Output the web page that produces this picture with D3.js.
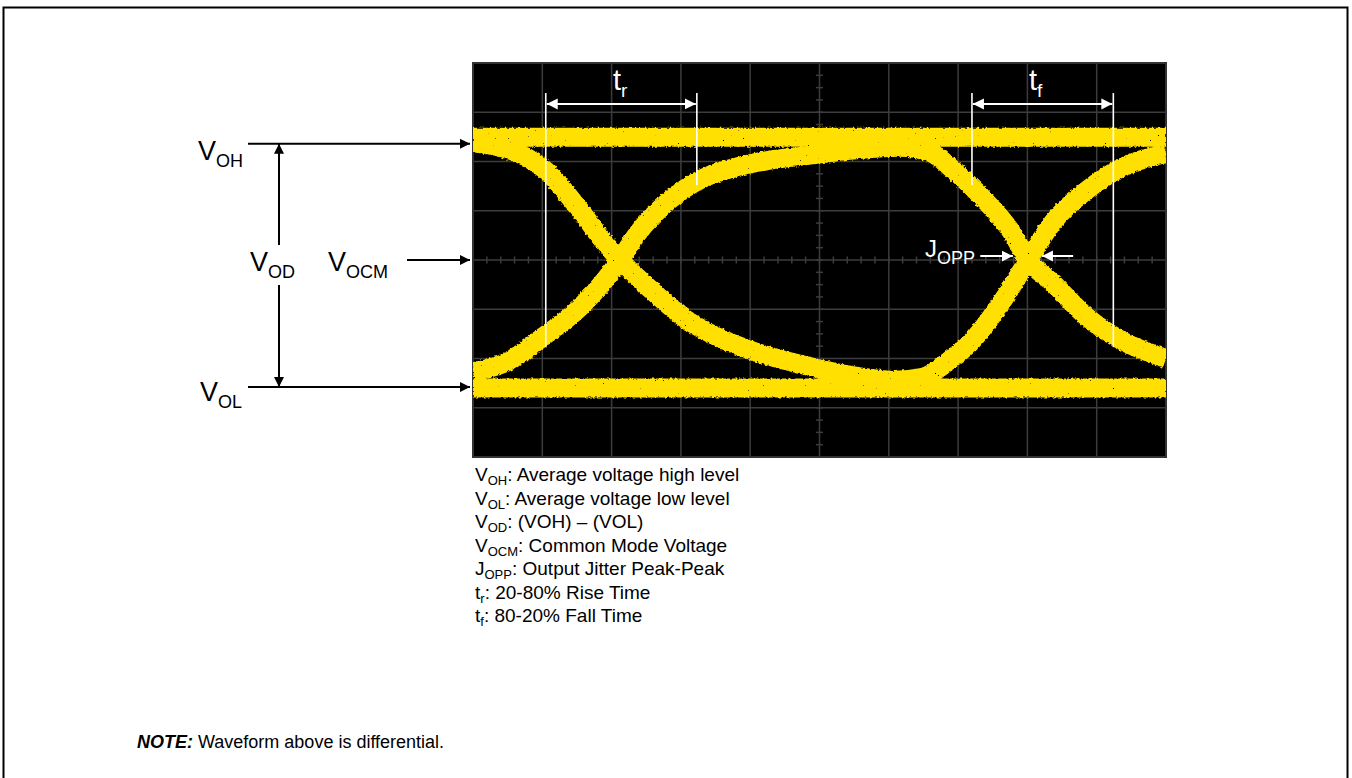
<!DOCTYPE html>
<html>
<head>
<meta charset="utf-8">
<script src="https://cdn.jsdelivr.net/npm/d3@7/dist/d3.min.js"></script>
<style>
    body { margin: 0; background: #fff; }
    text { font-family: Arial, "Liberation Sans", sans-serif; }
</style>
</head>
<body>
<script>
// eye diagram, units are scope divisions (10 x 8), 0 volts at center line
var highBand = [[0, 2.49], [10, 2.49]];
var lowBand = [[0, -2.60], [10, -2.60]];

// falls at first crossing, rises at the second one
var traceFallRise = [
    [0, 2.38], [0.39, 2.29], [0.71, 2.13], [1.07, 1.79], [1.54, 1.02], [1.90, 0.35],
    [2.12, 0], [2.37, -0.35], [2.70, -0.77], [3.03, -1.16], [3.49, -1.54], [4.00, -1.83],
    [4.76, -2.13], [5.44, -2.34], [6.09, -2.44], [6.49, -2.38], [6.88, -2.03], [7.17, -1.69],
    [7.65, -0.81], [8.01, 0], [8.37, 0.77], [8.86, 1.42], [9.34, 1.86], [10, 2.17]
];

// rises at first crossing, falls at the second one
var traceRiseFall = [
    [0, -2.27], [0.49, -2.07], [1.01, -1.56], [1.54, -0.97], [1.90, -0.41],
    [2.12, 0], [2.37, 0.53], [2.84, 1.22], [3.32, 1.66], [3.81, 1.89], [4.29, 2.03],
    [4.76, 2.11], [5.44, 2.23], [6.16, 2.29], [6.59, 2.19], [6.93, 1.83], [7.42, 1.16],
    [7.75, 0.61], [8.01, 0], [8.37, -0.47], [8.86, -1.16], [9.34, -1.62], [10, -2.00]
];

// marker positions (divisions)
var trLines = [1.05, 3.23];
var tfLines = [7.20, 9.24];
var jitterArrows = [[7.32, 7.79], [8.66, 8.21]];
var levelVOH = 2.36, levelVOL = -2.58, levelVOCM = 0;

var legendSymbols = ["V", "V", "V", "V", "J", "t", "t"];
var legendSubs = ["OH", "OL", "OD", "OCM", "OPP", "r", "f"];
var legendTexts = [
    ": Average voltage high level",
    ": Average voltage low level",
    ": (VOH) \u2013 (VOL)",
    ": Common Mode Voltage",
    ": Output Jitter Peak-Peak",
    ": 20-80% Rise Time",
    ": 80-20% Fall Time"
];

(function () {
    var width = 1352;
    var height = 778;
    var left = 473, right = 1166, top = 63, bottom = 457;
    var yellow = "#ffe000";

    var svg = d3.select("body").append("svg")
        .attr("width", width)
        .attr("height", height);

    var defs = svg.append("defs");

    function addMarker(id, color, len, wid) {
        defs.append("marker")
            .attr("id", id)
            .attr("viewBox", "0 0 10 10")
            .attr("refX", 10)
            .attr("refY", 5)
            .attr("markerUnits", "userSpaceOnUse")
            .attr("markerWidth", len)
            .attr("markerHeight", wid)
            .attr("orient", "auto-start-reverse")
            .append("path")
            .attr("d", "M0,0L10,5L0,10z")
            .attr("fill", color);
    }
    addMarker("arrowBlack", "#000", 12, 10);
    addMarker("arrowWhite", "#fff", 11, 12);

    defs.append("clipPath").attr("id", "scopeClip")
        .append("rect")
        .attr("x", left).attr("y", top)
        .attr("width", right - left).attr("height", bottom - top);

    // grainy edges + a few holes, like a persistence display
    var f = defs.append("filter").attr("id", "grain")
        .attr("x", "-5%").attr("y", "-5%").attr("width", "110%").attr("height", "110%");
    f.append("feTurbulence").attr("type", "fractalNoise").attr("baseFrequency", 0.4)
        .attr("numOctaves", 2).attr("seed", 4).attr("result", "n");
    f.append("feDisplacementMap").attr("in", "SourceGraphic").attr("in2", "n")
        .attr("scale", 3.5).attr("xChannelSelector", "R").attr("yChannelSelector", "G")
        .attr("result", "d");
    f.append("feTurbulence").attr("type", "fractalNoise").attr("baseFrequency", 0.6)
        .attr("numOctaves", 1).attr("seed", 9).attr("result", "n2");
    f.append("feColorMatrix").attr("in", "n2").attr("type", "matrix")
        .attr("values", "0 0 0 0 0  0 0 0 0 0  0 0 0 0 0  14 0 0 0 -10.4")
        .attr("result", "holes");
    f.append("feComposite").attr("in", "d").attr("in2", "holes").attr("operator", "out");

    // outer page border
    svg.append("rect")
        .attr("x", 3.5).attr("y", 7.5)
        .attr("width", 1344).attr("height", 800)
        .attr("fill", "none")
        .attr("stroke", "#000")
        .attr("stroke-width", 2);

    var xScale = d3.scaleLinear().domain([0, 10]).range([left, right]);
    var yScale = d3.scaleLinear().domain([-4, 4]).range([bottom, top]);

    // scope screen
    svg.append("rect")
        .attr("x", left).attr("y", top)
        .attr("width", right - left).attr("height", bottom - top)
        .attr("fill", "#000");

    var grid = svg.append("g").attr("stroke", "#3c3c3c").attr("stroke-width", 1.5);
    grid.selectAll(".gx").data(d3.range(0, 11)).enter().append("line")
        .attr("x1", function (d) { return xScale(d); })
        .attr("x2", function (d) { return xScale(d); })
        .attr("y1", top).attr("y2", bottom);
    grid.selectAll(".gy").data(d3.range(-4, 5)).enter().append("line")
        .attr("y1", function (d) { return yScale(d); })
        .attr("y2", function (d) { return yScale(d); })
        .attr("x1", left).attr("x2", right);
    // minor ticks on the center axes
    grid.selectAll(".tx").data(d3.range(0, 50).map(function (i) { return i / 5; })).enter().append("line")
        .attr("x1", function (d) { return xScale(d); })
        .attr("x2", function (d) { return xScale(d); })
        .attr("y1", yScale(0) - 3.5).attr("y2", yScale(0) + 3.5);
    grid.selectAll(".ty").data(d3.range(0, 32).map(function (i) { return i / 4 - 4; })).enter().append("line")
        .attr("y1", function (d) { return yScale(d); })
        .attr("y2", function (d) { return yScale(d); })
        .attr("x1", xScale(5) - 3.5).attr("x2", xScale(5) + 3.5);
    svg.append("rect")
        .attr("x", left).attr("y", top)
        .attr("width", right - left).attr("height", bottom - top)
        .attr("fill", "none").attr("stroke", "#333").attr("stroke-width", 2);

    // traces
    var line = d3.line()
        .x(function (d) { return xScale(d[0]); })
        .y(function (d) { return yScale(d[1]); })
        .curve(d3.curveMonotoneX);

    var traces = svg.append("g").attr("clip-path", "url(#scopeClip)")
        .append("g").attr("filter", "url(#grain)");
    traces.selectAll("path")
        .data([highBand, lowBand, traceFallRise, traceRiseFall])
        .enter().append("path")
        .attr("d", line)
        .attr("fill", "none")
        .attr("stroke", yellow)
        .attr("stroke-width", 19)
        .attr("stroke-linecap", "butt");

    // t_r / t_f markers
    var white = svg.append("g").attr("stroke", "#fff").attr("stroke-width", 1.6);
    var tTop = yScale(3.39), tArrow = yScale(3.17);
    white.append("line").attr("x1", xScale(trLines[0])).attr("x2", xScale(trLines[0]))
        .attr("y1", tTop).attr("y2", yScale(-1.77));
    white.append("line").attr("x1", xScale(trLines[1])).attr("x2", xScale(trLines[1]))
        .attr("y1", tTop).attr("y2", yScale(1.52));
    white.append("line").attr("x1", xScale(tfLines[0])).attr("x2", xScale(tfLines[0]))
        .attr("y1", tTop).attr("y2", yScale(1.52));
    white.append("line").attr("x1", xScale(tfLines[1])).attr("x2", xScale(tfLines[1]))
        .attr("y1", tTop).attr("y2", yScale(-1.77));
    [trLines, tfLines].forEach(function (p) {
        white.append("line")
            .attr("x1", xScale(p[0]) + 1).attr("x2", xScale(p[1]) - 1)
            .attr("y1", tArrow).attr("y2", tArrow)
            .attr("stroke-width", 2)
            .attr("marker-start", "url(#arrowWhite)")
            .attr("marker-end", "url(#arrowWhite)");
    });
    jitterArrows.forEach(function (p) {
        white.append("line")
            .attr("x1", xScale(p[0])).attr("x2", xScale(p[1]))
            .attr("y1", yScale(0.08)).attr("y2", yScale(0.08))
            .attr("stroke-width", 2)
            .attr("marker-end", "url(#arrowWhite)");
    });

    function subLabel(g, x, y, main, sub, size, subSize, dy, color) {
        var t = g.append("text")
            .attr("x", x).attr("y", y)
            .attr("font-size", size)
            .attr("fill", color);
        t.append("tspan").text(main);
        t.append("tspan").attr("font-size", subSize).attr("dy", dy).text(sub);
        return t;
    }

    subLabel(svg, 613, 90, "t", "r", 29, 19, 7, "#fff");
    subLabel(svg, 1029, 90, "t", "f", 29, 19, 7, "#fff");
    subLabel(svg, 925, 257, "J", "OPP", 24, 18, 7, "#fff");

    // level arrows on the left
    var black = svg.append("g").attr("stroke", "#000").attr("stroke-width", 2);
    black.append("line").attr("x1", 248).attr("x2", left - 3)
        .attr("y1", yScale(levelVOH)).attr("y2", yScale(levelVOH))
        .attr("marker-end", "url(#arrowBlack)");
    black.append("line").attr("x1", 248).attr("x2", left - 3)
        .attr("y1", yScale(levelVOL)).attr("y2", yScale(levelVOL))
        .attr("marker-end", "url(#arrowBlack)");
    black.append("line").attr("x1", 407).attr("x2", left - 3)
        .attr("y1", yScale(levelVOCM)).attr("y2", yScale(levelVOCM))
        .attr("marker-end", "url(#arrowBlack)");
    black.append("line").attr("x1", 279).attr("x2", 279)
        .attr("y1", 245).attr("y2", yScale(levelVOH))
        .attr("marker-end", "url(#arrowBlack)");
    black.append("line").attr("x1", 279).attr("x2", 279)
        .attr("y1", 285).attr("y2", yScale(levelVOL))
        .attr("marker-end", "url(#arrowBlack)");

    subLabel(svg, 198, 160, "V", "OH", 27, 18, 7, "#000");
    subLabel(svg, 200, 401, "V", "OL", 27, 18, 7, "#000");
    subLabel(svg, 250, 271, "V", "OD", 27, 18, 7, "#000");
    subLabel(svg, 328, 271, "V", "OCM", 27, 18, 7, "#000");

    // legend
    var legend = svg.append("g");
    legendTexts.forEach(function (txt, i) {
        var t = legend.append("text")
            .attr("x", 475)
            .attr("y", 481 + i * 23.5)
            .attr("font-size", 19)
            .attr("fill", "#000");
        t.append("tspan").text(legendSymbols[i]);
        t.append("tspan").attr("font-size", 13).attr("dy", 4).text(legendSubs[i]);
        t.append("tspan").attr("dy", -4).text(txt);
    });

    // note
    var note = svg.append("text")
        .attr("x", 137).attr("y", 748)
        .attr("font-size", 18)
        .attr("fill", "#000");
    note.append("tspan").attr("font-weight", "bold").attr("font-style", "italic").text("NOTE:");
    note.append("tspan").text(" Waveform above is differential.");
})();
</script>
</body>
</html>
